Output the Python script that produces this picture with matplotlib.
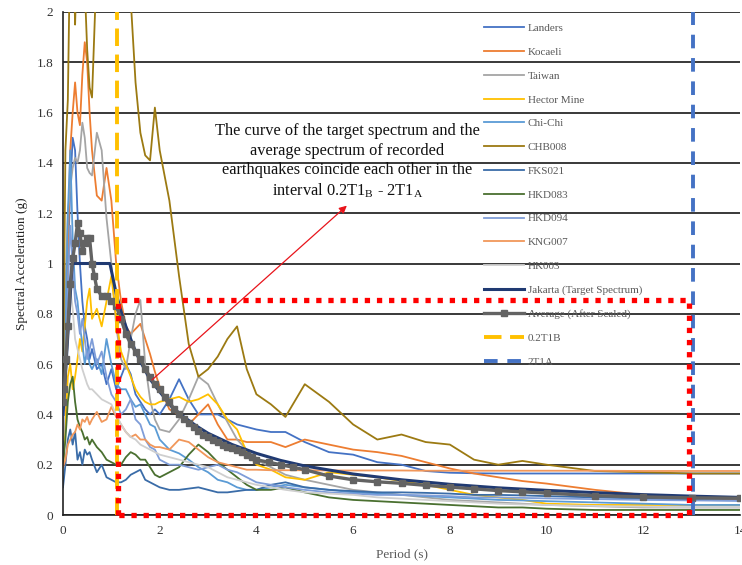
import matplotlib
matplotlib.use("Agg")
import matplotlib.pyplot as plt

plt.rcParams['font.family'] = ['Liberation Serif', 'DejaVu Serif']

# Periods (s) shared by the recorded ground motions
period = [0.0, 0.05, 0.1, 0.15, 0.2, 0.25, 0.3, 0.35, 0.4, 0.45, 0.5, 0.55, 0.6,
          0.7, 0.8, 0.9, 1.0,
          1.1, 1.2, 1.3, 1.4, 1.5, 1.6, 1.7, 1.8, 1.9, 2.0,
          2.2, 2.4, 2.6, 2.8, 3.0, 3.2, 3.4, 3.6, 3.8, 4.0,
          4.3, 4.6, 5.0,
          5.5, 6.0, 6.5, 7.0, 7.5, 8.0, 8.5, 9.0, 9.5, 10.0,
          11.0, 12.0, 13.0, 14.0]

landers = [0.30, 0.60, 1.00, 1.30, 1.50, 1.45, 1.20, 1.00, 0.85, 0.75, 0.70, 0.62, 0.66,
           0.58, 0.60, 0.52, 0.58,
           0.50, 0.55, 0.60, 0.56, 0.48, 0.45, 0.42, 0.40, 0.42, 0.40,
           0.46, 0.54, 0.46, 0.40, 0.40, 0.40, 0.38, 0.36, 0.35, 0.34,
           0.33, 0.33, 0.29,
           0.25, 0.24, 0.21, 0.20, 0.175, 0.168, 0.166, 0.165, 0.165, 0.165,
           0.165, 0.165, 0.165, 0.165]
kocaeli = [0.20, 0.45, 1.05, 1.45, 1.60, 1.72, 1.60, 1.55, 1.75, 1.88, 1.80, 1.60, 1.45,
           1.27, 1.25, 1.38, 1.25,
           1.00, 0.85, 0.75, 0.72, 0.74, 0.76, 0.70, 0.64, 0.57, 0.51,
           0.42, 0.40, 0.36, 0.40, 0.44, 0.36, 0.30, 0.30, 0.29, 0.29,
           0.29, 0.27, 0.30,
           0.28, 0.26, 0.25, 0.235, 0.21, 0.185, 0.165, 0.15, 0.135, 0.125,
           0.10, 0.08, 0.07, 0.06]
taiwan = [0.45, 0.90, 1.20, 1.30, 1.38, 1.42, 1.40, 1.45, 1.56, 1.50, 1.38, 1.36, 1.35,
          1.52, 1.45, 1.18, 1.00,
          0.75, 0.62, 0.58, 0.70, 0.80, 0.855, 0.60, 0.46, 0.38, 0.34,
          0.33, 0.38, 0.46, 0.55, 0.52, 0.44, 0.37, 0.30, 0.26, 0.22,
          0.19, 0.16, 0.14,
          0.12, 0.10, 0.09, 0.08, 0.07, 0.06, 0.055, 0.05, 0.045, 0.04,
          0.035, 0.03, 0.03, 0.03]
hector_mine = [0.20, 0.35, 0.55, 0.60, 0.50, 0.55, 0.62, 0.70, 0.65, 0.75, 0.85, 0.90, 0.78,
               0.82, 0.75, 0.85, 0.95,
               0.78, 0.65, 0.60, 0.55, 0.50, 0.47, 0.45, 0.44, 0.44, 0.45,
               0.46, 0.47, 0.45, 0.46, 0.48, 0.44, 0.38, 0.34, 0.25, 0.20,
               0.18, 0.15, 0.14,
               0.17, 0.16, 0.15, 0.135, 0.12, 0.10, 0.08, 0.07, 0.06, 0.045,
               0.04, 0.04, 0.04, 0.04]
chi_chi = [0.25, 0.70, 1.20, 1.45, 1.10, 0.90, 0.85, 0.75, 0.68, 0.60, 0.66, 0.60, 0.58,
           0.62, 0.56, 0.70, 0.60,
           0.52, 0.50, 0.50, 0.46, 0.43, 0.44, 0.40, 0.36, 0.35, 0.30,
           0.26, 0.245, 0.22, 0.19, 0.17, 0.14, 0.13, 0.11, 0.10, 0.10,
           0.11, 0.12, 0.11,
           0.10, 0.09, 0.085, 0.08, 0.075, 0.07, 0.065, 0.06, 0.058, 0.055,
           0.05, 0.045, 0.04, 0.04]
chb008 = [0.45, 1.45, 1.65, 2.30, 2.40, 1.95, 2.30, 2.50, 2.30, 2.10, 1.85, 1.70, 1.66,
          2.20, 2.60, 2.80, 2.90,
          2.80, 2.60, 2.30, 2.05, 1.72, 1.52, 1.43, 1.41, 1.62, 1.45,
          1.25, 0.95, 0.68, 0.55, 0.58, 0.63, 0.70, 0.75, 0.58, 0.48,
          0.44, 0.39, 0.52,
          0.45, 0.36, 0.30, 0.32, 0.29, 0.28, 0.22, 0.20, 0.215, 0.20,
          0.175, 0.17, 0.165, 0.165]
fks021 = [0.11, 0.20, 0.30, 0.34, 0.28, 0.33, 0.22, 0.25, 0.20, 0.26, 0.24, 0.25, 0.22,
          0.17, 0.20, 0.15, 0.14,
          0.13, 0.13, 0.14, 0.16, 0.17, 0.18, 0.14, 0.13, 0.12, 0.11,
          0.10, 0.10, 0.105, 0.11, 0.10, 0.09, 0.09, 0.095, 0.10, 0.10,
          0.12, 0.13, 0.11,
          0.10, 0.095, 0.09, 0.09, 0.088, 0.085, 0.08, 0.08, 0.078, 0.075,
          0.07, 0.065, 0.06, 0.058]
hkd083 = [0.20, 0.30, 0.45, 0.52, 0.55, 0.45, 0.38, 0.35, 0.33, 0.30, 0.31, 0.28, 0.30,
          0.27, 0.25, 0.22, 0.21,
          0.20, 0.20, 0.23, 0.25, 0.24, 0.22, 0.22, 0.19, 0.16, 0.15,
          0.17, 0.19, 0.24, 0.28, 0.25, 0.21, 0.18, 0.15, 0.12, 0.10,
          0.10, 0.11, 0.09,
          0.07, 0.06, 0.055, 0.05, 0.045, 0.04, 0.035, 0.03, 0.03, 0.025,
          0.02, 0.02, 0.02, 0.02]
hkd094 = [0.30, 0.55, 0.90, 1.15, 1.00, 0.85, 0.80, 0.72, 0.78, 0.70, 0.62, 0.66, 0.70,
          0.60, 0.65, 0.55, 0.48,
          0.45, 0.40, 0.42, 0.46, 0.38, 0.36, 0.30, 0.27, 0.26, 0.22,
          0.20, 0.20, 0.19, 0.18, 0.19, 0.20, 0.18, 0.17, 0.15, 0.13,
          0.12, 0.11, 0.10,
          0.09, 0.085, 0.08, 0.08, 0.078, 0.075, 0.07, 0.07, 0.068, 0.066,
          0.063, 0.06, 0.058, 0.056]
kng007 = [0.19, 0.22, 0.28, 0.30, 0.32, 0.33, 0.36, 0.34, 0.38, 0.37, 0.39, 0.36, 0.38,
          0.41, 0.37, 0.38, 0.43,
          0.39, 0.36, 0.33, 0.31, 0.32, 0.30, 0.30, 0.28, 0.27, 0.27,
          0.26, 0.30, 0.29, 0.26, 0.23, 0.21, 0.20, 0.19, 0.18, 0.18,
          0.178, 0.178, 0.178,
          0.177, 0.177, 0.177, 0.177, 0.176, 0.176, 0.176, 0.176, 0.176, 0.176,
          0.176, 0.175, 0.175, 0.175]
hk003 = [0.30, 0.55, 0.80, 0.90, 0.82, 0.70, 0.66, 0.62, 0.58, 0.55, 0.52, 0.50, 0.50,
         0.48, 0.46, 0.45, 0.44,
         0.40, 0.36, 0.33, 0.31, 0.30, 0.28, 0.27, 0.26, 0.25, 0.24,
         0.23, 0.22, 0.21, 0.20, 0.19, 0.17, 0.15, 0.14, 0.13, 0.12,
         0.11, 0.10, 0.09,
         0.085, 0.08, 0.07, 0.065, 0.06, 0.055, 0.05, 0.045, 0.042, 0.04,
         0.036, 0.033, 0.03, 0.03]

# Jakarta design (target) spectrum
target_period = [0.0, 0.19, 0.97, 1.1, 1.2, 1.3, 1.4, 1.5, 1.6, 1.8, 2.0, 2.25, 2.5,
                 2.75, 3.0, 3.5, 4.0, 4.5, 5.0, 6.0, 7.0, 8.0, 9.0, 10.0, 11.0,
                 12.0, 13.0, 14.0]
target_sa = [0.40, 1.00, 1.00, 0.88, 0.81, 0.75, 0.70, 0.65, 0.61, 0.54, 0.49, 0.43, 0.39,
             0.355, 0.325, 0.28, 0.245, 0.217, 0.195, 0.163, 0.14, 0.122, 0.108, 0.098,
             0.089, 0.081, 0.075, 0.07]

# Average of the scaled records
avg_period = [0.0, 0.03, 0.06, 0.1, 0.15,
              0.2, 0.25, 0.3, 0.35, 0.4, 0.45, 0.5, 0.55, 0.6, 0.65, 0.7,
              0.8, 0.9, 1.0,
              1.1, 1.2, 1.3, 1.4, 1.5, 1.6, 1.7, 1.8, 1.9, 2.0,
              2.1, 2.2, 2.3, 2.4, 2.5, 2.6, 2.7, 2.8, 2.9, 3.0,
              3.1, 3.2, 3.3, 3.4, 3.5, 3.6, 3.7, 3.8, 3.9, 4.0,
              4.25, 4.5, 4.75, 5.0,
              5.5, 6.0, 6.5, 7.0, 7.5, 8.0, 8.5, 9.0, 9.5, 10.0,
              11.0, 12.0, 13.0, 14.0]
avg_sa = [0.45, 0.50, 0.62, 0.75, 0.92,
          1.02, 1.08, 1.16, 1.12, 1.05, 1.08, 1.10, 1.10, 1.00, 0.95, 0.90,
          0.87, 0.87, 0.85,
          0.83, 0.78, 0.72, 0.68, 0.65, 0.62, 0.58, 0.55, 0.52, 0.50,
          0.47, 0.45, 0.42, 0.40, 0.38, 0.365, 0.35, 0.335, 0.32, 0.31,
          0.30, 0.29, 0.28, 0.27, 0.265, 0.26, 0.25, 0.24, 0.23, 0.22,
          0.21, 0.20, 0.19, 0.18,
          0.155, 0.14, 0.132, 0.126, 0.118, 0.111, 0.104, 0.097, 0.092, 0.087,
          0.077, 0.072, 0.068, 0.067]

# Matching interval limits (s)
t_02T1B = 1.12
t_2T1A = 13.02
match_box_t = [1.14, 12.94]
match_box_sa = 0.855

records = [
    ("Landers", landers, "#4472C4"),
    ("Kocaeli", kocaeli, "#ED7D31"),
    ("Taiwan", taiwan, "#A5A5A5"),
    ("Hector Mine", hector_mine, "#FFC000"),
    ("Chi-Chi", chi_chi, "#5B9BD5"),
    ("CHB008", chb008, "#9C7A12"),
    ("FKS021", fks021, "#3A6CA8"),
    ("HKD083", hkd083, "#4A7030"),
    ("HKD094", hkd094, "#7F9DD8"),
    ("KNG007", kng007, "#F1975A"),
    ("HK003", hk003, "#CFCFCF"),
]

fig = plt.figure(figsize=(7.42, 5.65), dpi=100)
ax = fig.add_axes([63 / 742, 50 / 565, 677 / 742, 503 / 565])

for name, values, color in records:
    ax.plot(period, values, color=color, lw=1.3, label=name, zorder=2)

ax.plot(target_period, target_sa, color="#203A72", lw=2.2,
        label="Jakarta (Target Spectrum)", zorder=3)
ax.plot(avg_period, avg_sa, color="#636363", lw=2.4, marker="s", ms=5,
        label="Average (After Scaled)", zorder=4)

ax.axvline(t_02T1B, color="#FFC000", lw=2.8, dashes=(4.5, 2.2),
           label="0.2T1B", zorder=5)
ax.axvline(t_2T1A, color="#4472C4", lw=2.8, dashes=(3.5, 2.5),
           label="2T1A", zorder=5)

# Red dotted frame around the matching interval
x0, x1 = match_box_t
ax.plot([x0, x0, x1, x1, x0], [0, match_box_sa, match_box_sa, 0, 0],
        color="#FF0000", lw=3.8, linestyle=(0, (1.0, 1.3)),
        solid_capstyle="butt", dash_capstyle="butt", clip_on=False, zorder=6)

ax.set_xlim(0, 14)
ax.set_ylim(0, 2)
yt = [0, 0.2, 0.4, 0.6, 0.8, 1.0, 1.2, 1.4, 1.6, 1.8, 2.0]
ax.set_yticks(yt)
ax.set_yticklabels(["0", "0.2", "0.4", "0.6", "0.8", "1", "1.2", "1.4", "1.6", "1.8", "2"])
ax.set_xticks(range(0, 15, 2))
ax.tick_params(length=0, labelsize=9.5, colors="#333333", pad=7)
ax.grid(axis="y", color="#2a2a2a", lw=1.3)
ax.set_axisbelow(True)
for s in ("top", "right"):
    ax.spines[s].set_visible(False)
ax.spines["left"].set_color("#222222")
ax.spines["bottom"].set_color("#222222")
ax.spines["left"].set_linewidth(1.2)
ax.spines["bottom"].set_linewidth(1.2)

ax.set_xlabel("Period (s)", fontsize=9.5, color="#595959", labelpad=8)
ax.set_ylabel("Spectral Acceleration (g)", fontsize=9.5, color="#222222", labelpad=6)

ax.annotate("", xy=(5.87, 1.23), xytext=(1.84, 0.537),
            arrowprops=dict(arrowstyle="-|>", color="#E8141B", lw=0.9,
                            mutation_scale=11, shrinkA=0, shrinkB=0), zorder=7)
ax.text(5.88, 1.404,
        "The curve of the target spectrum and the\n"
        "average spectrum of recorded\n"
        "earthquakes coincide each other in the\n"
        r"interval 0.2T1$_\mathregular{B}$ - 2T1$_\mathregular{A}$",
        ha="center", va="center", fontsize=11.8, linespacing=1.27,
        color="#111111", zorder=7)

handles, labels = ax.get_legend_handles_labels()
ax.legend(handles, labels, loc="upper left", bbox_to_anchor=(0.616, 0.986),
          frameon=False, fontsize=8, handlelength=3.6, handletextpad=0.3,
          labelspacing=1.26, labelcolor="#595959", borderaxespad=0)

fig.savefig("out.png", dpi=100)
